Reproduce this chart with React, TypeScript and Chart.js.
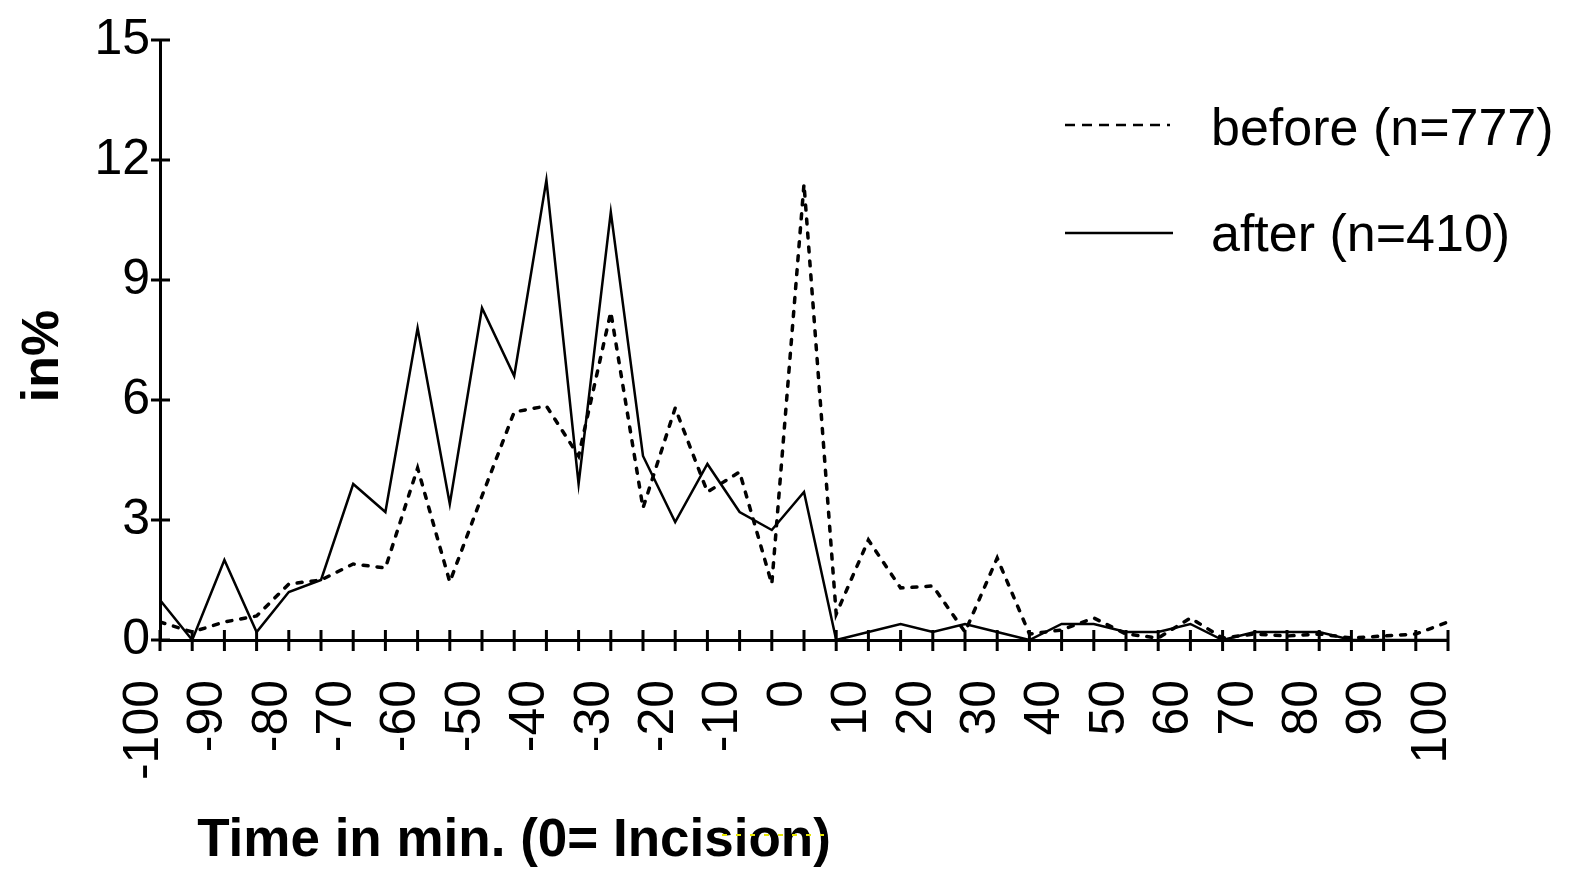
import React, { useEffect, useRef } from 'react';
import { Chart, registerables } from 'chart.js';

Chart.register(...registerables);

const times = [
  -100, -95, -90, -85, -80, -75, -70, -65, -60, -55, -50, -45, -40, -35, -30, -25, -20, -15, -10, -5,
  0, 5, 10, 15, 20, 25, 30, 35, 40, 45, 50, 55, 60, 65, 70, 75, 80, 85, 90, 95, 100,
];

const beforeValues = [
  0.45, 0.2, 0.45, 0.6, 1.4, 1.5, 1.9, 1.8, 4.3, 1.45, 3.6, 5.7, 5.85, 4.6, 8.2, 3.3, 5.8, 3.7, 4.2, 1.4,
  11.4, 0.65, 2.5, 1.3, 1.35, 0.2, 2.05, 0.15, 0.25, 0.55, 0.15, 0.05, 0.55, 0.05, 0.15, 0.1, 0.15, 0.05, 0.1, 0.15, 0.45,
];

const afterValues = [
  1.0, 0.0, 2.0, 0.2, 1.2, 1.5, 3.9, 3.2, 7.8, 3.4, 8.3, 6.6, 11.5, 3.9, 10.7, 4.6, 2.95, 4.4, 3.2, 2.75,
  3.7, 0.0, 0.2, 0.4, 0.2, 0.4, 0.2, 0.0, 0.4, 0.4, 0.2, 0.2, 0.4, 0.0, 0.2, 0.2, 0.2, 0.0, 0.0, 0.0, 0.0,
];

const yTickValues = [0, 3, 6, 9, 12, 15];
const legendLabels = ['before (n=777)', 'after (n=410)'];
const xTitle = 'Time in min. (0= Incision)';
const yTitle = 'in%';

const FONT = "'Liberation Sans', Arial, Helvetica, sans-serif";

const decorPlugin = {
  id: 'decor',
  afterDraw(chart: any) {
    const ctx = chart.ctx as CanvasRenderingContext2D;
    const xs = chart.scales.x;
    const ys = chart.scales.y;
    const { left, bottom } = chart.chartArea;
    ctx.save();
    ctx.strokeStyle = '#000';
    ctx.fillStyle = '#000';
    ctx.lineWidth = 3;
    ctx.setLineDash([]);
    // x tick marks (every 5 min), crossing the axis
    times.forEach((t) => {
      const px = xs.getPixelForValue(t);
      ctx.beginPath();
      ctx.moveTo(px, bottom - 10);
      ctx.lineTo(px, bottom + 11);
      ctx.stroke();
    });
    // y tick marks crossing the axis
    yTickValues.forEach((v) => {
      const py = ys.getPixelForValue(v);
      ctx.beginPath();
      ctx.moveTo(left - 9, py);
      ctx.lineTo(left + 10, py);
      ctx.stroke();
    });

    // legend
    ctx.lineWidth = 2.5;
    ctx.setLineDash([10, 7]);
    ctx.beginPath();
    ctx.moveTo(1065, 125);
    ctx.lineTo(1170, 125);
    ctx.stroke();
    ctx.setLineDash([]);
    ctx.beginPath();
    ctx.moveTo(1065, 233);
    ctx.lineTo(1173, 233);
    ctx.stroke();
    ctx.font = `52px ${FONT}`;
    ctx.textAlign = 'left';
    ctx.textBaseline = 'middle';
    ctx.fillText(legendLabels[0], 1211, 131);
    ctx.fillText(legendLabels[1], 1211, 237);

    // x title
    ctx.font = `bold 53px ${FONT}`;
    ctx.textAlign = 'center';
    ctx.textBaseline = 'alphabetic';
    ctx.fillText(xTitle, 514, 856);

    // y title
    ctx.save();
    ctx.translate(58, 356);
    ctx.rotate(-Math.PI / 2);
    ctx.font = `bold 52px ${FONT}`;
    ctx.textAlign = 'center';
    ctx.textBaseline = 'alphabetic';
    ctx.fillText(yTitle, 0, 0);
    ctx.restore();

    // faint yellow dashes near the title (present in the original)
    ctx.strokeStyle = '#e6e600';
    ctx.lineWidth = 2;
    ctx.setLineDash([5, 9]);
    ctx.beginPath();
    ctx.moveTo(722, 835);
    ctx.lineTo(824, 835);
    ctx.stroke();
    ctx.restore();
  },
};

export default function App() {
  const canvasRef = useRef<HTMLCanvasElement | null>(null);

  useEffect(() => {
    document.body.style.margin = '0';
    const canvas = canvasRef.current;
    if (!canvas) return;
    const chart = new Chart(canvas, {
      type: 'line',
      data: {
        datasets: [
          {
            label: legendLabels[0],
            data: times.map((t, i) => ({ x: t, y: beforeValues[i] })),
            borderColor: '#000',
            borderWidth: 3.5,
            borderDash: [5, 9],
            borderCapStyle: 'round',
            pointRadius: 0,
            tension: 0,
            fill: false,
          },
          {
            label: legendLabels[1],
            data: times.map((t, i) => ({ x: t, y: afterValues[i] })),
            borderColor: '#000',
            borderWidth: 2.5,
            pointRadius: 0,
            tension: 0,
            fill: false,
          },
        ],
      },
      options: {
        animation: false,
        responsive: false,
        devicePixelRatio: 1,
        layout: { padding: { left: 0, top: 37, right: 125, bottom: 0 } },
        plugins: {
          legend: { display: false },
          tooltip: { enabled: false },
          title: { display: false },
        },
        scales: {
          x: {
            type: 'linear',
            min: -100,
            max: 100,
            grid: { display: false, drawTicks: false },
            border: { display: true, color: '#000', width: 3 },
            afterFit: (scale: any) => {
              scale.height = 229;
            },
            ticks: {
              stepSize: 10,
              autoSkip: false,
              minRotation: 90,
              maxRotation: 90,
              labelOffset: -16,
              padding: 40,
              color: '#000',
              font: { family: FONT, size: 50 },
              callback: (v: any) => String(v),
            },
          },
          y: {
            type: 'linear',
            min: 0,
            max: 15,
            grid: { display: false, drawTicks: false },
            border: { display: true, color: '#000', width: 3 },
            afterFit: (scale: any) => {
              scale.width = 160;
            },
            ticks: {
              stepSize: 3,
              padding: 10,
              color: '#000',
              font: { family: FONT, size: 50 },
            },
          },
        },
      },
      plugins: [decorPlugin],
    });
    return () => chart.destroy();
  }, []);

  return (
    <div style={{ position: 'absolute', left: 0, top: 0, width: 1573, height: 869, background: '#fff' }}>
      <canvas ref={canvasRef} width={1573} height={869} />
    </div>
  );
}
